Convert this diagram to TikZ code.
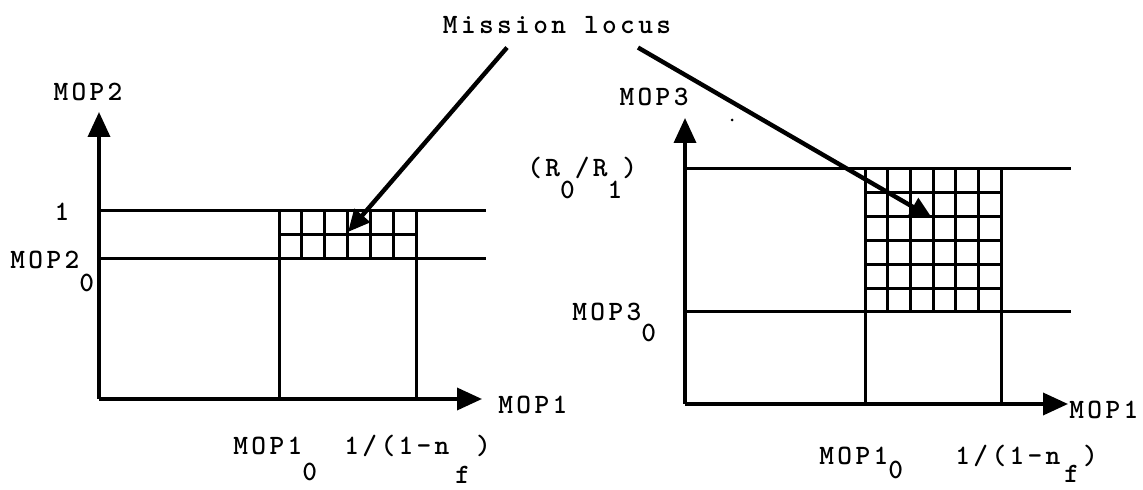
\documentclass[tikz,border=0pt]{standalone}
\usepackage{fontspec}
\newfontfamily\lblfont[LetterSpace=12]{lmmonolt10-bold.otf}
\usetikzlibrary{arrows.meta,positioning}
\tikzset{
  lbl/.style={font=\lblfont\fontsize{14}{17}\selectfont, inner sep=0pt},
  axis/.style={line width=1.8pt, -{Triangle[length=12.5pt,width=11pt]}},
  gline/.style={line width=1.5pt},
  larr/.style={line width=2.2pt, -{Triangle[length=11pt,width=10pt]}}
}
\newcommand{\lowsub}[2][11pt]{\raisebox{-#1}{#2}}

\begin{document}
\begin{tikzpicture}[x=0.5pt,y=-0.5pt]
\useasboundingbox (0,0) rectangle (1143,490);
% left panel: MOP2 vs MOP1
\coordinate (o1) at (99,399);
\coordinate (y1) at (99,112);
\coordinate (x1) at (482,399);
\draw[axis] (o1) -- (y1);
\draw[axis] (o1) -- (x1);
\draw[gline] (99,211) -- (486,211);
\draw[gline] (99,259) -- (486,259);
\draw[gline] (279,211) -- (279,399);
\draw[gline] (416,211) -- (416,399);
\draw[gline] (279,235) -- (416,235);
\foreach \i in {1,...,5}
  \draw[gline] ({279+\i*22.83},211) -- ({279+\i*22.83},259);
\node[lbl, anchor=base] (mop2) at (88,101) {MOP2};
\node[lbl, anchor=base] (one) at (62,221) {1};
\node[lbl, anchor=base west] (mop2z) at (10,269) {MOP2\lowsub[11.5pt]{0}};
\node[lbl, anchor=base west] (mop1a) at (498,414) {MOP1};
\node[lbl, anchor=base west] (mop1za) at (233,455) {MOP1\lowsub[13pt]{0}};
\node[lbl, anchor=base west] (nfa) at (344,455) {1/(1-n\hspace{3pt}\lowsub[14pt]{f}\hspace{3pt})};
% right panel: MOP3 vs MOP1
\coordinate (o2) at (685,404);
\coordinate (y2) at (685,118);
\coordinate (x2) at (1068,404);
\draw[axis] (o2) -- (y2);
\draw[axis] (o2) -- (x2);
\draw[gline] (685,169) -- (1071,169);
\draw[gline] (685,312) -- (1071,312);
\draw[gline] (865,169) -- (865,404);
\draw[gline] (1001,169) -- (1001,404);
\foreach \i in {1,...,5} {
  \draw[gline] ({865+\i*22.67},169) -- ({865+\i*22.67},312);
  \draw[gline] (865,{169+\i*23.83}) -- (1001,{169+\i*23.83});
}
\fill (732,120) circle (1.5);
\node[lbl, anchor=base] (mop3) at (654,106) {MOP3};
\node[lbl, anchor=base west] (ratio) at (527,177) {(R\lowsub{0}/R\lowsub{1})};
\node[lbl, anchor=base west] (mop3z) at (572,321) {MOP3\lowsub[10.5pt]{0}};
\node[lbl, anchor=base west] (mop1b) at (1069,419) {MOP1};
\node[lbl, anchor=base west] (mop1zb) at (819,465) {MOP1\lowsub[7pt]{0}};
\node[lbl, anchor=base west] (nfb) at (955,465) {1/(1-n\hspace{2pt}\lowsub[9pt]{f}\hspace{2pt})};
% mission locus
\node[lbl, anchor=base] (locus) at (557,34) {Mission locus};
\coordinate (t1) at (348,232);
\coordinate (t2) at (932,218);
\draw[larr] ([shift={(-50,13)}]locus.south) -- (t1);
\draw[larr] ([shift={(81,13)}]locus.south) -- (t2);
\end{tikzpicture}
\end{document}
